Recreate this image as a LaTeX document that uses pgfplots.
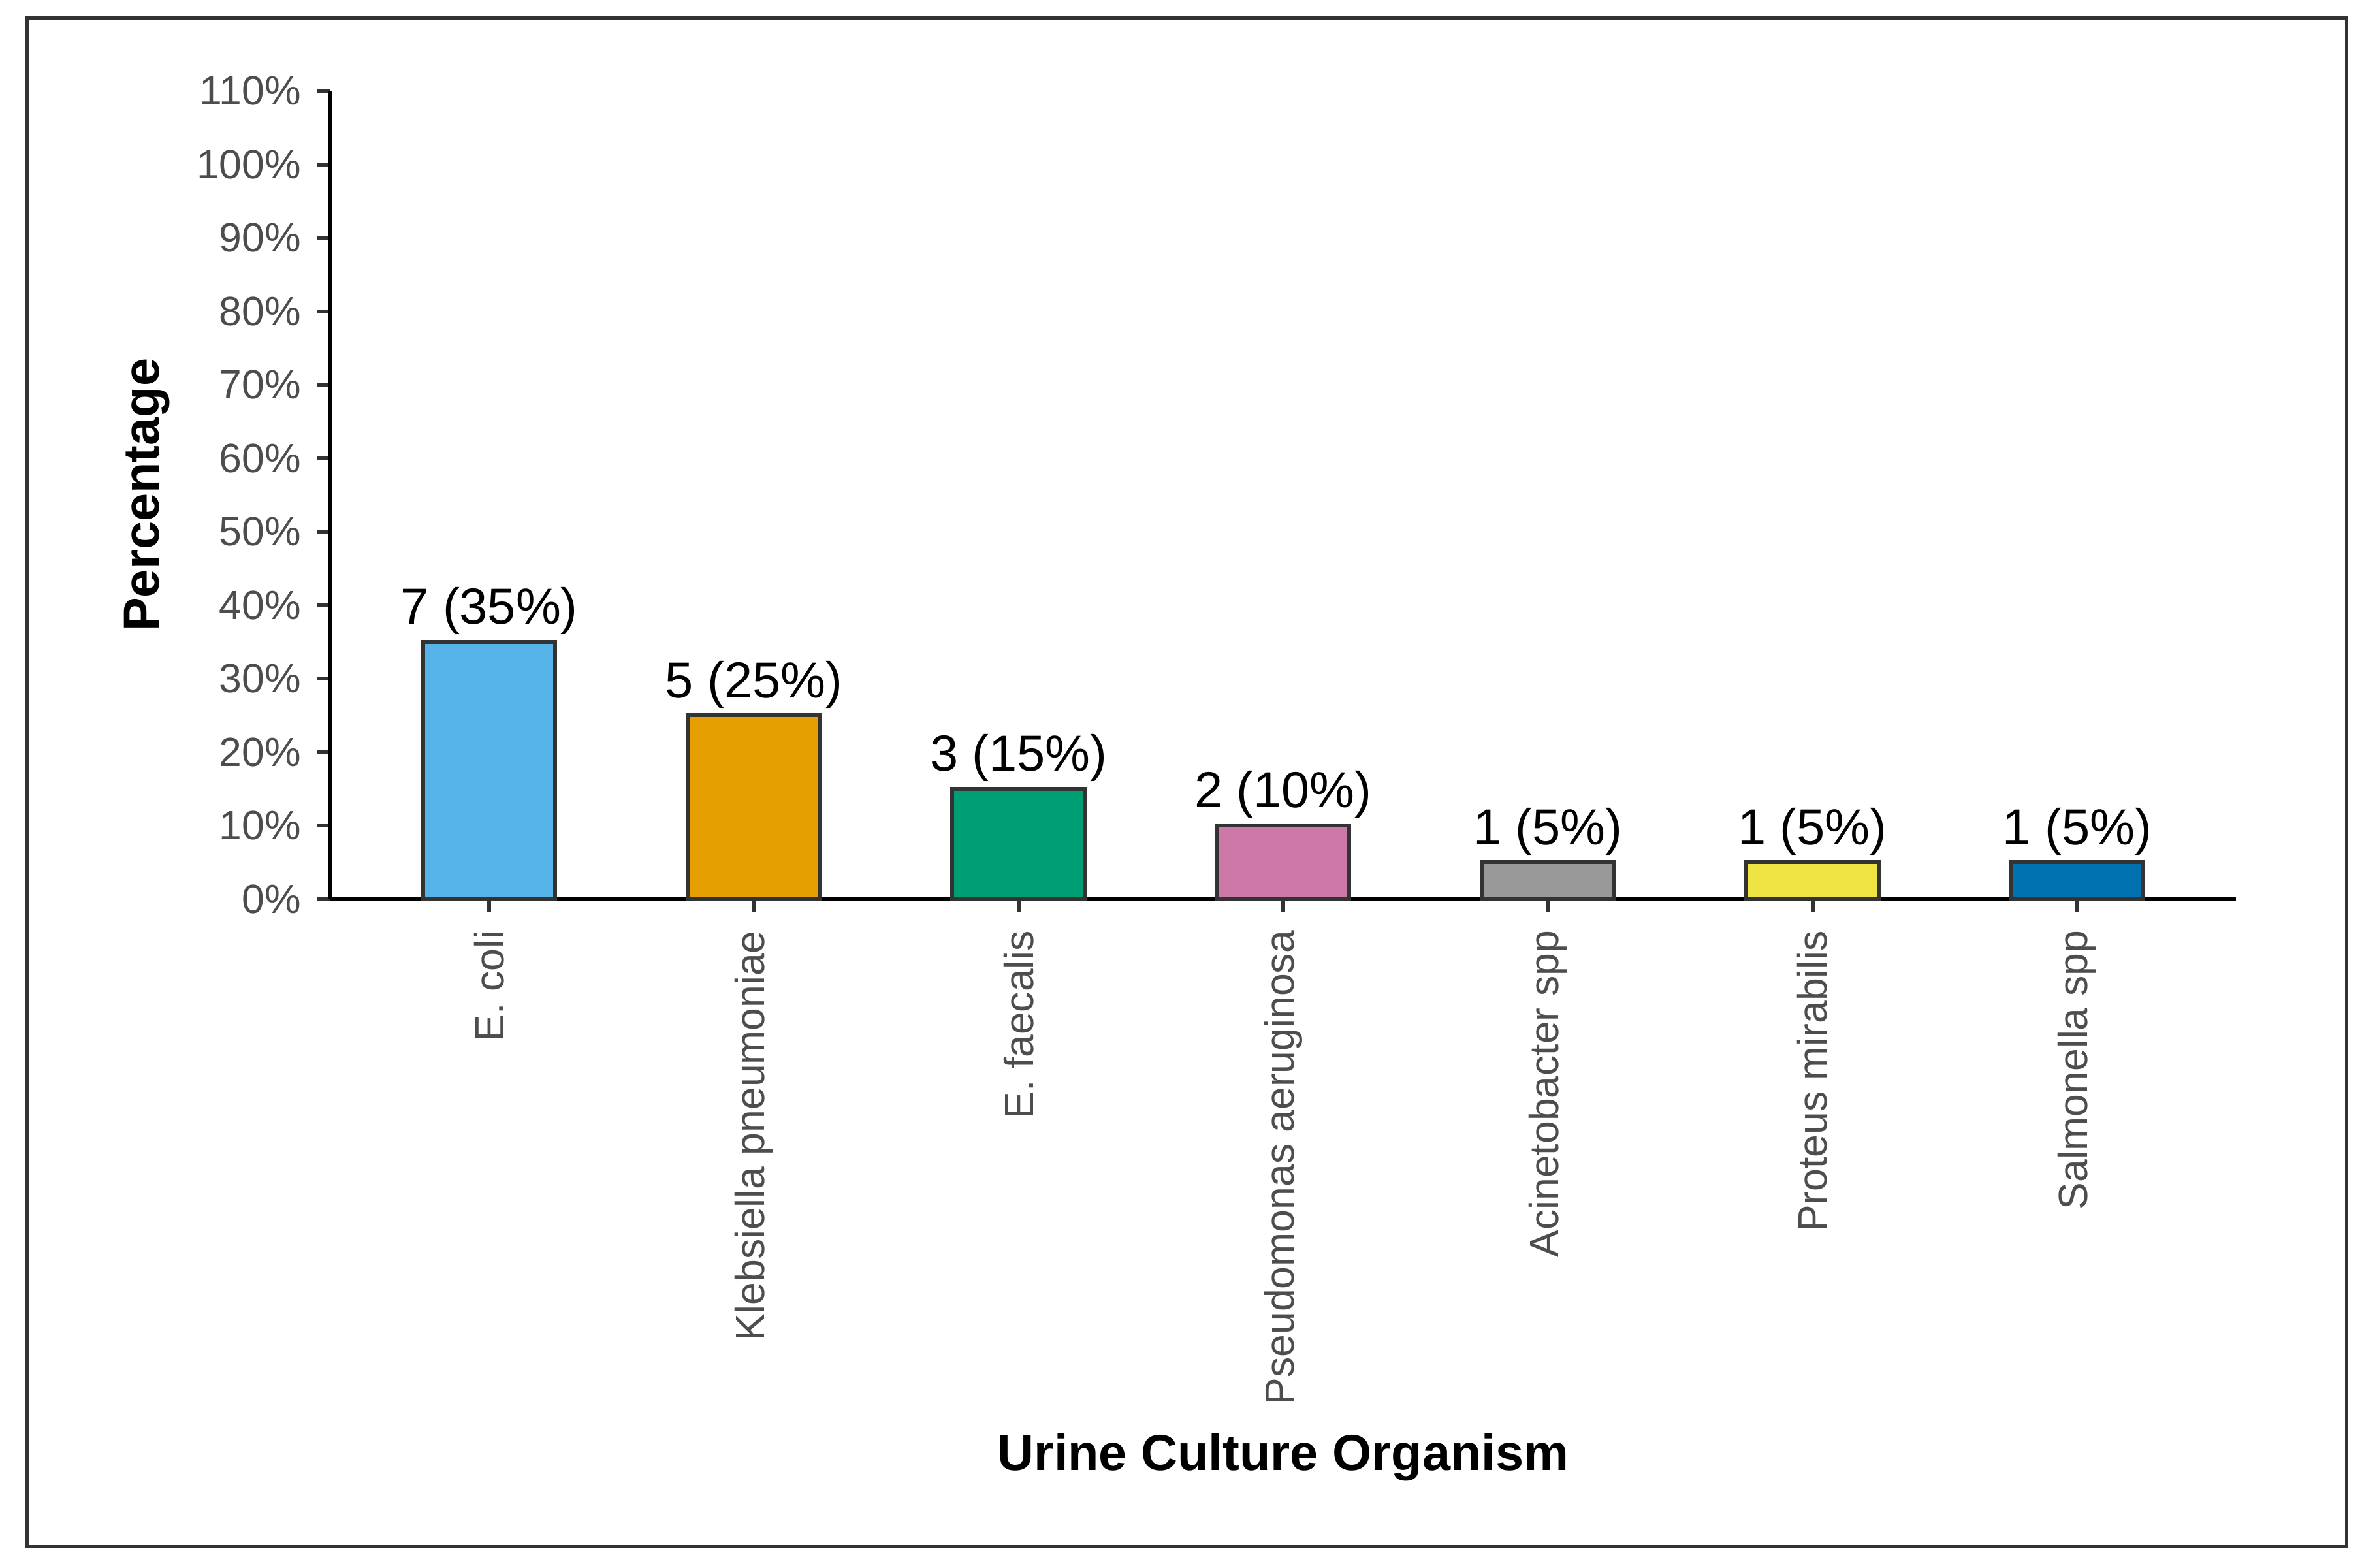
\documentclass[border=0pt]{standalone}
\usepackage{pgfplots}
\pgfplotsset{compat=1.18}
\usepackage{fontspec}
\setmainfont{Liberation Sans}
\definecolor{c1}{HTML}{56B4E9}
\definecolor{c2}{HTML}{E69F00}
\definecolor{c3}{HTML}{009E73}
\definecolor{c4}{HTML}{CC79A7}
\definecolor{c5}{HTML}{999999}
\definecolor{c6}{HTML}{F0E442}
\definecolor{c7}{HTML}{0072B2}
\definecolor{edge}{HTML}{333333}
\definecolor{tickgray}{HTML}{4D4D4D}
\begin{document}
\begin{tikzpicture}
\path[use as bounding box] (-101.2pt,-204.8pt) rectangle (626.8pt,275.3pt);
\draw[edge, line width=1pt] (-92.9pt,-198.3pt) rectangle (617.5pt,269.8pt);
\begin{axis}[
  at={(0pt,0pt)}, anchor=south west,
  width=583.6pt, height=247.5pt, scale only axis,
  xmin=-0.6, xmax=6.6, ymin=0, ymax=110,
  axis x line=bottom, axis y line=left,
  axis line style={line width=1.2pt, black, -},
  tick align=outside,
  major tick length=4pt,
  tick style={line width=1.2pt, edge},
  xtick={0,1,2,3,4,5,6},
  xticklabels={E. coli, Klebsiella pneumoniae, E. faecalis, Pseudomonas aeruginosa, Acinetobacter spp, Proteus mirabilis, Salmonella spp},
  ytick={0,10,20,30,40,50,60,70,80,90,100,110},
  yticklabels={0\%,10\%,20\%,30\%,40\%,50\%,60\%,70\%,80\%,90\%,100\%,110\%},
  ticklabel style={font=\fontsize{12.5}{15}\selectfont, text=tickgray},
  xticklabel style={rotate=90, anchor=east, inner sep=0pt, xshift=-5.5pt},
  yticklabel style={anchor=east, inner sep=0pt, xshift=-4.8pt},
  xlabel={Urine Culture Organism},
  ylabel={Percentage},
  xlabel style={font=\fontsize{15.5}{18}\selectfont\bfseries, at={(axis description cs:0.5,-0.7071)}, anchor=base},
  ylabel style={font=\fontsize{15.5}{18}\selectfont\bfseries, at={(axis description cs:-0.0963,0.5)}, anchor=center, rotate=0},
  clip=false,
  every axis plot/.style={ybar, bar width=0.5, bar shift=0pt, draw=edge, line width=1.2pt,
    nodes near coords, point meta=explicit symbolic,
    every node near coord/.style={font=\fontsize{15.5}{18}\selectfont, text=black, anchor=south, inner sep=0pt, yshift=1.6pt}},
]
\addplot[fill=c1] coordinates {(0,35) [7 (35\%)]};
\addplot[fill=c2] coordinates {(1,25) [5 (25\%)]};
\addplot[fill=c3] coordinates {(2,15) [3 (15\%)]};
\addplot[fill=c4] coordinates {(3,10) [2 (10\%)]};
\addplot[fill=c5] coordinates {(4,5) [1 (5\%)]};
\addplot[fill=c6] coordinates {(5,5) [1 (5\%)]};
\addplot[fill=c7] coordinates {(6,5) [1 (5\%)]};
\end{axis}
\end{tikzpicture}
\end{document}
